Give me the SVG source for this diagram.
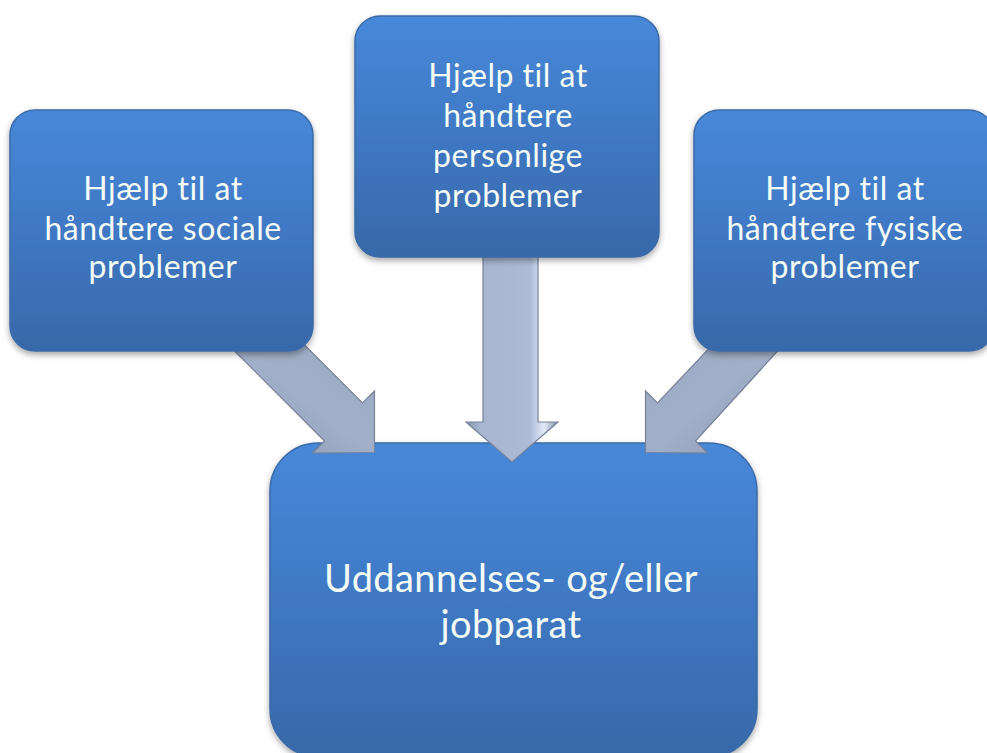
<svg xmlns="http://www.w3.org/2000/svg" width="987" height="753" viewBox="0 0 987 753">
<defs>
<linearGradient id="boxg" x1="0" y1="0" x2="0" y2="1">
<stop offset="0" stop-color="#4788d8"/>
<stop offset="0.5" stop-color="#3f78c4"/>
<stop offset="1" stop-color="#3868a9"/>
</linearGradient>
<linearGradient id="arrV" x1="0" y1="0" x2="1" y2="0">
<stop offset="0" stop-color="#8794ad"/>
<stop offset="0.15" stop-color="#a7b5d0"/>
<stop offset="0.7" stop-color="#adbbd6"/>
<stop offset="0.85" stop-color="#e3ebf7"/>
<stop offset="1" stop-color="#7f8aa0"/>
</linearGradient>
<linearGradient id="arrL" x1="0" y1="1" x2="1" y2="0">
<stop offset="0" stop-color="#8490a8"/>
<stop offset="0.5" stop-color="#a2afc8"/>
<stop offset="1" stop-color="#9aa7c0"/>
</linearGradient>
<linearGradient id="arrR" x1="1" y1="1" x2="0" y2="0">
<stop offset="0" stop-color="#8a96ae"/>
<stop offset="0.5" stop-color="#a2afc8"/>
<stop offset="1" stop-color="#9aa7c0"/>
</linearGradient>
<filter id="sh" x="-10%" y="-10%" width="120%" height="130%">
<feDropShadow dx="0" dy="3" stdDeviation="3" flood-color="#000" flood-opacity="0.35"/>
</filter>
</defs>
<style>
.box{fill:url(#boxg);stroke:#3a6aa8;stroke-width:1.5;filter:url(#sh)}
.t{font-family:Lato,"Liberation Sans",sans-serif;fill:#f4fbf4;text-anchor:middle;font-weight:400}
.ts{font-size:32px;letter-spacing:0.5px}
.tb{font-size:38px;letter-spacing:0.4px}
.arr{stroke:#76819a;stroke-width:1.2;stroke-linejoin:miter}
</style>
<g id="node-bottom">
<rect class="box" x="270" y="443" width="487" height="314" rx="48" ry="48"/>
<text class="t tb" x="511" y="592">Uddannelses- og/eller</text>
<text class="t tb" x="511" y="638">jobparat</text>
</g>
<g id="connectors">
<polygon class="arr" fill="url(#arrL)" points="279.5,320 362.5,403 374.5,391 374.5,452.5 312.5,453 324.5,441 203.5,320"/>
<polygon class="arr" fill="url(#arrV)" points="483,240 538,240 538,422 558,422 512,462 466,422 483,422"/>
<polygon class="arr" fill="url(#arrR)" points="736,320 657.5,403 645.5,391 645.5,452.5 707.5,453 695.5,441 806,320"/>
</g>
<g id="node-left">
<rect class="box" x="10" y="110" width="303" height="241" rx="25" ry="25"/>
<text class="t ts" x="163" y="200">Hjælp til at</text>
<text class="t ts" x="163" y="240">håndtere sociale</text>
<text class="t ts" x="163" y="278">problemer</text>
</g>
<g id="node-center">
<rect class="box" x="355" y="16" width="304" height="241" rx="25" ry="25"/>
<text class="t ts" x="508" y="87">Hjælp til at</text>
<text class="t ts" x="508" y="127">håndtere</text>
<text class="t ts" x="508" y="167">personlige</text>
<text class="t ts" x="508" y="207">problemer</text>
</g>
<g id="node-right">
<rect class="box" x="694" y="110" width="300" height="241" rx="25" ry="25"/>
<text class="t ts" x="845" y="200">Hjælp til at</text>
<text class="t ts" x="845" y="240">håndtere fysiske</text>
<text class="t ts" x="845" y="278">problemer</text>
</g>
</svg>
